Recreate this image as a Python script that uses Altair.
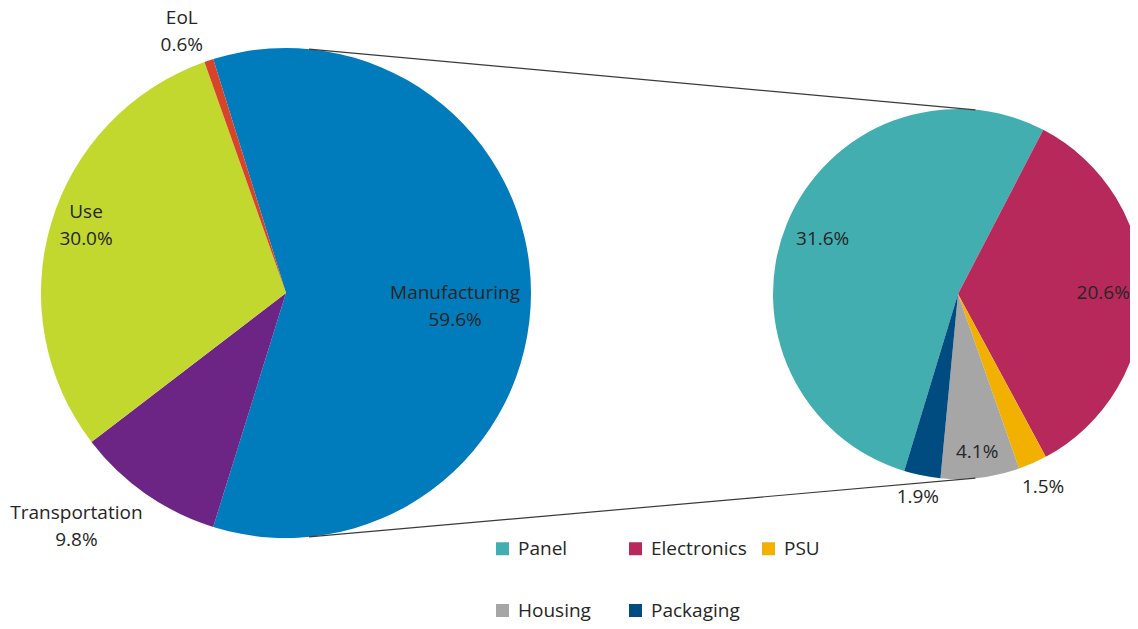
import math
import altair as alt
import pandas as pd

# ---- data ----
main_cats = ["Manufacturing", "Transportation", "Use", "EoL"]
main_vals = [59.6, 9.8, 30.0, 0.6]
main_pcts = ["59.6%", "9.8%", "30.0%", "0.6%"]

sub_cats = ["Panel", "Electronics", "PSU", "Housing", "Packaging"]
sub_vals = [31.6, 20.6, 1.5, 4.1, 1.9]
sub_pcts = ["31.6%", "20.6%", "1.5%", "4.1%", "1.9%"]

# ---- styles / layout ----
main_colors = ["#007BBB", "#6C2585", "#C3D82F", "#D8442A"]
sub_colors = ["#43AEB0", "#B8295B", "#F2B100", "#A6A6A6", "#004C80"]
# label placement: radius as fraction of pie radius, angle shift in degrees
main_label_r = [0.69, 1.24, 0.88, 1.20]
main_label_da = [0.0, 8.7, 5.4, -2.4]
sub_label_r = [0.79, 0.785, 1.14, 0.86, 1.12]
sub_label_da = [0.0, 0.0, 0.0, 0.0, 0.0]

FONT = "Open Sans"
FS = 19
TXT = "#262626"
W, H = 1122, 613
L_cx, L_cy, L_r = 278, 285, 245
R_cx, R_cy, R_r = 950, 286, 185


def make_df(cats, vals, labels, colors, rfr, da, rad):
    total = sum(vals)
    return pd.DataFrame({
        "cat": cats, "val": vals, "idx": list(range(len(cats))),
        "color": colors, "label": labels,
        "lr": [f * rad for f in rfr],
        "shift": [d / 360 * total for d in da],
    })


main_df = make_df(main_cats, main_vals,
                  [c + "\n" + p for c, p in zip(main_cats, main_pcts)],
                  main_colors, main_label_r, main_label_da, L_r)
sub_df = make_df(sub_cats, sub_vals, sub_pcts, sub_colors,
                 sub_label_r, sub_label_da, R_r)

# Manufacturing wedge centred on the right (90 deg)
L_start = math.pi / 2 - math.pi * main_vals[0] / sum(main_vals)
R_start = math.radians(-163.1)


def pie(df, total, start, cx, cy, r, color_enc, text_props):
    sc = alt.Scale(domain=[0, total], range=[start, start + 2 * math.pi])
    base = alt.Chart(df).transform_window(
        cum="sum(val)", sort=[alt.SortField("idx")]
    ).transform_calculate(
        beg="datum.cum - datum.val",
        mid="datum.cum - datum.val / 2 + datum.shift"
    ).encode(x=alt.value(cx), y=alt.value(cy))
    arc = base.mark_arc(radius=r).encode(
        theta=alt.Theta("beg:Q", scale=sc), theta2="cum:Q", color=color_enc)
    txt = base.mark_text(font=FONT, fontSize=FS, color=TXT, align="center",
                         baseline="middle", **text_props).encode(
        theta=alt.Theta("mid:Q", scale=sc),
        radius=alt.Radius("lr:Q", scale=None),
        text="label:N")
    return alt.layer(arc, txt)


left = pie(main_df, sum(main_vals), L_start, L_cx, L_cy, L_r,
           alt.Color("color:N", scale=None),
           dict(lineBreak="\n", lineHeight=27))

legend = alt.Legend(title=None, orient="none", legendX=485, legendY=531,
                    direction="horizontal", columns=3, gridAlign="all",
                    symbolType="square", symbolSize=169, symbolStrokeWidth=0,
                    labelFont=FONT, labelFontSize=FS, labelColor=TXT,
                    labelOffset=6, columnPadding=12, rowPadding=42, padding=0)
right = pie(sub_df, sum(sub_vals), R_start, R_cx, R_cy, R_r,
            alt.Color("cat:N", scale=alt.Scale(domain=sub_cats, range=sub_colors),
                      legend=legend),
            dict())

# connector lines from the primary pie to the secondary pie
a = math.radians(5.4)
one = pd.DataFrame({"k": [0]})


def connector(sign):
    return alt.Chart(one).mark_rule(color="#3A3A3A", strokeWidth=1.2).encode(
        x=alt.value(L_cx + L_r * math.sin(a)),
        y=alt.value(L_cy - sign * L_r * math.cos(a)),
        x2=alt.value(R_cx + R_r * math.sin(a)),
        y2=alt.value(R_cy - sign * R_r * math.cos(a)))


chart = alt.layer(left, right, connector(1), connector(-1)).resolve_scale(
    theta="independent", color="independent"
).properties(width=W, height=H, padding=0,
             autosize=alt.AutoSizeParams(type="none")
).configure_view(stroke=None)

chart.save("out.html", embed_options={"renderer": "svg", "actions": False})
